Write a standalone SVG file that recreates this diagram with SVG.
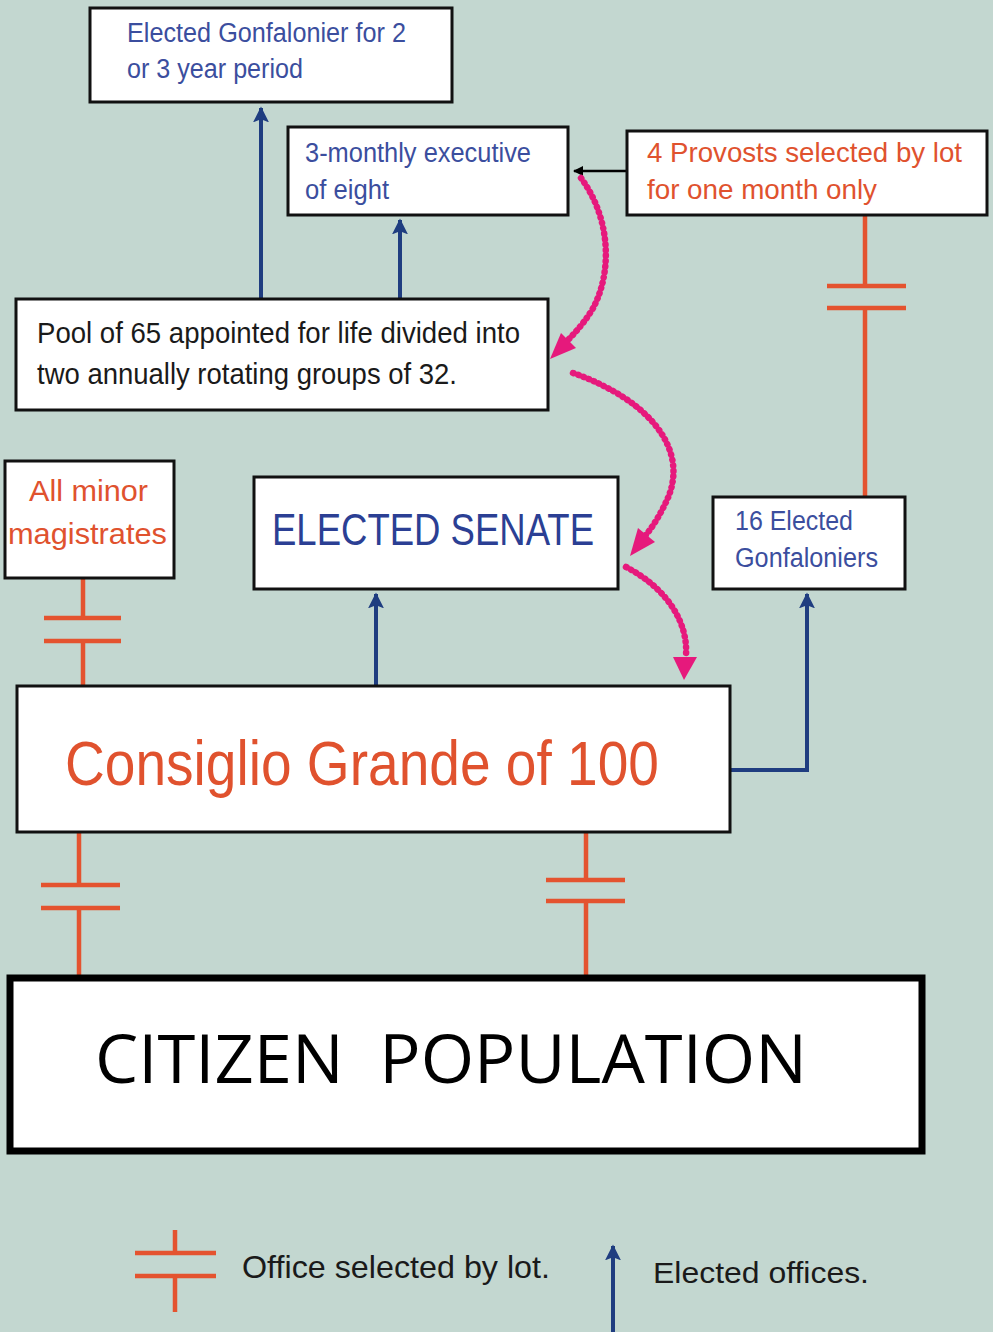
<svg xmlns="http://www.w3.org/2000/svg" width="993" height="1332" viewBox="0 0 993 1332">
<style>
.box{fill:#fff;stroke:#111;stroke-width:3}
.t{font-family:"Liberation Sans","Arial",sans-serif}
.blue{fill:#3b4e9e}
.red{fill:#e0522e}
.blk{fill:#1a1a1a}
.lot{stroke:#e4532f;stroke-width:4.5;fill:none}
.el{stroke:#1f3d80;stroke-width:4;fill:none}
.pk{stroke:#e6197c;stroke-width:6.5;fill:none;stroke-linecap:round;stroke-dasharray:0.5 5}
.pkh{fill:#e6197c}
</style>
<defs>
<marker id="ba" viewBox="0 0 10 10" refX="9" refY="5" markerWidth="4" markerHeight="4" orient="auto" markerUnits="strokeWidth">
<path d="M0,0 L10,5 L0,10 L2,5 z" fill="#1f3d80"/>
</marker>
<marker id="ka" viewBox="0 0 10 10" refX="9" refY="5" markerWidth="4" markerHeight="4" orient="auto" markerUnits="strokeWidth">
<path d="M0,0 L10,5 L0,10 z" fill="#000"/>
</marker>
</defs>
<rect width="993" height="1332" fill="#c3d7d0"/>

<g id="connectors">
<path class="el" d="M261,299 V108" marker-end="url(#ba)"/>
<path class="el" d="M400,299 V220" marker-end="url(#ba)"/>
<path class="el" d="M376,685 V594" marker-end="url(#ba)"/>
<path class="el" d="M731,770 H807 V594" marker-end="url(#ba)"/>
<path d="M627,171 H574" stroke="#000" stroke-width="2.5" fill="none" marker-end="url(#ka)"/>
<g id="lot-minor">
<path class="lot" d="M83,578 V618 M83,641 V685 M44,618 H121 M44,641 H121"/>
</g>
<g id="lot-provosts">
<path class="lot" d="M865,215 V286 M865,308 V497 M827,286 H906 M827,308 H906"/>
</g>
<g id="lot-citizen-left">
<path class="lot" d="M79,832 V885 M79,908 V975 M41,885 H120 M41,908 H120"/>
</g>
<g id="lot-citizen-right">
<path class="lot" d="M586,832 V880 M586,901 V975 M546,880 H625 M546,901 H625"/>
</g>
<path class="pk" d="M581,178 C612,220 612,275 592,310 C582,326 572,336 566,342"/>
<path class="pkh" d="M550,359 L561,333 L576,348 z"/>
<path class="pk" d="M573,373 C650,400 690,450 667,500 C660,515 652,528 645,536"/>
<path class="pkh" d="M630,556 L638,528 L655,542 z"/>
<path class="pk" d="M626,567 C670,590 688,625 686,655"/>
<path class="pkh" d="M684,680 L673,657 L697,657 z"/>
</g>

<g id="gonfalonier">
<rect class="box" x="90" y="8" width="362" height="94"/>
<text class="t blue" font-size="27" x="127" y="42" textLength="279" lengthAdjust="spacingAndGlyphs">Elected Gonfalonier for 2</text>
<text class="t blue" font-size="27" x="127" y="78" textLength="176" lengthAdjust="spacingAndGlyphs">or 3 year period</text>
</g>

<g id="executive">
<rect class="box" x="288" y="127" width="280" height="88"/>
<text class="t blue" font-size="27" x="305" y="162" textLength="226" lengthAdjust="spacingAndGlyphs">3-monthly executive</text>
<text class="t blue" font-size="27" x="305" y="199" textLength="84" lengthAdjust="spacingAndGlyphs">of eight</text>
</g>

<g id="provosts">
<rect class="box" x="627" y="131" width="360" height="84"/>
<text class="t red" font-size="28" x="647" y="162" textLength="315" lengthAdjust="spacingAndGlyphs">4 Provosts selected by lot</text>
<text class="t red" font-size="28" x="647" y="199" textLength="230" lengthAdjust="spacingAndGlyphs">for one month only</text>
</g>

<g id="pool">
<rect class="box" x="16" y="299" width="532" height="111"/>
<text class="t blk" font-size="29" x="37" y="343" textLength="483" lengthAdjust="spacingAndGlyphs">Pool of 65 appointed for life divided into</text>
<text class="t blk" font-size="29" x="37" y="384" textLength="420" lengthAdjust="spacingAndGlyphs">two annually rotating groups of 32.</text>
</g>

<g id="minor">
<rect class="box" x="5" y="461" width="169" height="117"/>
<text class="t red" font-size="30" x="29" y="501" textLength="119" lengthAdjust="spacingAndGlyphs">All minor</text>
<text class="t red" font-size="30" x="8" y="544" textLength="159" lengthAdjust="spacingAndGlyphs">magistrates</text>
</g>

<g id="senate">
<rect class="box" x="254" y="477" width="364" height="112"/>
<text class="t" fill="#2b3f94" font-size="44" x="272" y="545" textLength="322" lengthAdjust="spacingAndGlyphs">ELECTED SENATE</text>
</g>

<g id="gonfaloniers16">
<rect class="box" x="713" y="497" width="192" height="92"/>
<text class="t blue" font-size="27" x="735" y="530" textLength="118" lengthAdjust="spacingAndGlyphs">16 Elected</text>
<text class="t blue" font-size="27" x="735" y="567" textLength="143" lengthAdjust="spacingAndGlyphs">Gonfaloniers</text>
</g>

<g id="consiglio">
<rect class="box" x="17" y="686" width="713" height="146"/>
<text class="t red" font-size="63" x="65" y="785" textLength="594" lengthAdjust="spacingAndGlyphs">Consiglio Grande of 100</text>
</g>

<g id="citizen">
<rect x="10" y="978" width="912" height="173" fill="#fff" stroke="#000" stroke-width="7"/>
<text xml:space="preserve" font-family="'Open Sans','DejaVu Sans',sans-serif" font-size="68" fill="#000" x="95" y="1083" textLength="712" lengthAdjust="spacingAndGlyphs">CITIZEN  POPULATION</text>
</g>

<g id="legend">
<path class="lot" d="M175,1230 V1253 M175,1276 V1312 M135,1253 H216 M135,1276 H216"/>
<text class="t blk" font-size="32" x="242" y="1278" textLength="308" lengthAdjust="spacingAndGlyphs">Office selected by lot.</text>
<path class="el" d="M613,1332 V1246" marker-end="url(#ba)"/>
<text class="t blk" font-size="30" x="653" y="1283" textLength="216" lengthAdjust="spacingAndGlyphs">Elected offices.</text>
</g>
</svg>
